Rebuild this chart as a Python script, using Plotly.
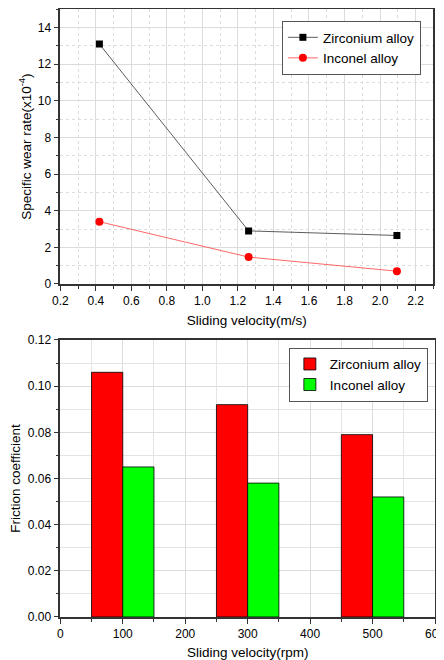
import plotly.graph_objects as go

# Top chart data
velocity_ms = [0.42, 1.26, 2.095]
zr_wear = [13.1, 2.9, 2.65]
inc_wear = [3.4, 1.47, 0.7]

# Bottom chart data
velocity_rpm = [100, 300, 500]
zr_friction = [0.106, 0.092, 0.079]
inc_friction = [0.065, 0.058, 0.052]

FONT = "Liberation Sans, Arial, sans-serif"

fig = go.Figure()

fig.add_trace(go.Scatter(
    x=velocity_ms, y=zr_wear, mode="lines+markers", name="Zirconium alloy",
    line=dict(color="#333333", width=0.8),
    marker=dict(symbol="square", size=7, color="black"),
    xaxis="x", yaxis="y", legend="legend"))
fig.add_trace(go.Scatter(
    x=velocity_ms, y=inc_wear, mode="lines+markers", name="Inconel alloy",
    line=dict(color="#ff4040", width=0.8),
    marker=dict(symbol="circle", size=8, color="red"),
    xaxis="x", yaxis="y", legend="legend"))

fig.add_trace(go.Bar(
    x=velocity_rpm, y=zr_friction, name="Zirconium alloy", width=50, offset=-50,
    marker=dict(color="#ff0000", line=dict(color="black", width=0.8)),
    xaxis="x2", yaxis="y2", legend="legend2"))
fig.add_trace(go.Bar(
    x=velocity_rpm, y=inc_friction, name="Inconel alloy", width=50, offset=0,
    marker=dict(color="#00ff00", line=dict(color="black", width=0.8)),
    xaxis="x2", yaxis="y2", legend="legend2"))

axis_common = dict(
    showline=True, linecolor="#333333", linewidth=1.5, mirror=True,
    ticks="outside", ticklen=5, tickwidth=1, tickcolor="#333333",
    showgrid=True, gridcolor="#dcdcdc", gridwidth=1, zeroline=False,
    tickfont=dict(family=FONT, size=12, color="black"),
    automargin=False, ticklabeloverflow="allow",
)

fig.update_layout(
    width=436, height=652,
    margin=dict(l=0, r=0, t=0, b=0),
    paper_bgcolor="white", plot_bgcolor="white",
    font=dict(family=FONT, size=13, color="black"),
    barmode="overlay",
    xaxis=dict(domain=[0.120, 0.9755], anchor="y", range=[0.2, 2.3],
               tickvals=[0.2, 0.4, 0.6, 0.8, 1.0, 1.2, 1.4, 1.6, 1.8, 2.0, 2.2],
               ticktext=["0.2", "0.4", "0.6", "0.8", "1.0", "1.2", "1.4", "1.6", "1.8", "2.0", "2.2"],
               minor=dict(dtick=0.1, tick0=0.1, ticks="outside", ticklen=3, tickcolor="#333333",
                          showgrid=True, gridcolor="#dcdcdc", griddash="dot"),
               title=dict(text="Sliding velocity(m/s)", font=dict(size=13.5), standoff=8),
               **axis_common),
    yaxis=dict(domain=[0.5767, 0.998], anchor="x", range=[0, 15], dtick=2,
               minor=dict(dtick=1, ticks="outside", ticklen=3, tickcolor="#333333",
                          showgrid=True, gridcolor="#dcdcdc", griddash="dot"),
               title=dict(text="Specific wear rate(x10<sup>-4</sup>)", font=dict(size=13.5), standoff=3),
               **axis_common),
    xaxis2=dict(domain=[0.120, 0.9794], anchor="y2", range=[0, 600], dtick=100,
                minor=dict(dtick=50, ticks="outside", ticklen=3, tickcolor="#333333",
                           showgrid=True, gridcolor="#e4e4e4"),
                title=dict(text="Sliding velocity(rpm)", font=dict(size=13.5), standoff=8),
                **axis_common),
    yaxis2=dict(domain=[0.0660, 0.4908], anchor="x2", range=[0, 0.12], dtick=0.02, tickformat=".2f",
                minor=dict(dtick=0.01, ticks="outside", ticklen=3, tickcolor="#333333",
                           showgrid=True, gridcolor="#e4e4e4"),
                title=dict(text="Friction coefficient", font=dict(size=13.5), standoff=8),
                **axis_common),
    legend=dict(x=0.947, y=0.980, xanchor="right", yanchor="top",
                xref="paper", yref="paper",
                bgcolor="white", bordercolor="#555555", borderwidth=1,
                font=dict(family=FONT, size=13.5), tracegroupgap=0,
                itemwidth=30),
    legend2=dict(x=0.963, y=0.479, xanchor="right", yanchor="top",
                 bgcolor="white", bordercolor="#555555", borderwidth=1,
                 font=dict(family=FONT, size=13.5), tracegroupgap=0,
                 itemwidth=30),
)

fig.write_html("out.html")
